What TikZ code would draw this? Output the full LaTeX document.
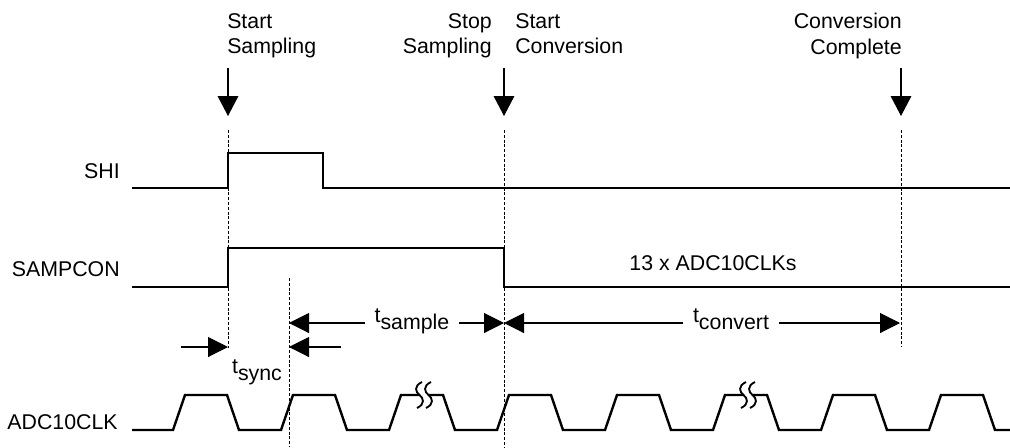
\documentclass[tikz,border=0pt]{standalone}
\usepackage{fontspec}
\setmainfont{Liberation Sans}
\usetikzlibrary{arrows.meta, positioning, calc}

\newcommand{\tsub}[1]{t\raisebox{-5.5pt}{#1}}

\tikzset{
    sig/.style={line width=1.8pt, line join=miter},
    guide/.style={line width=0.6pt, dash pattern=on 2.2pt off 1.4pt},
    evtip/.style={line width=0.8pt, -{Triangle[length=15pt, width=15.5pt]}},
    dimtip/.style={line width=0.8pt, -{Triangle[length=15pt, width=15pt]}},
    lbl/.style={inner sep=0pt, font=\fontsize{16}{19}\selectfont},
    dimlbl/.style={lbl, inner xsep=7pt, anchor=base}
}

\begin{document}
\begin{tikzpicture}[x=0.75pt, y=-0.75pt]
    \useasboundingbox (0,0) rectangle (1010,447);

    % event labels
    \node[lbl, align=left, anchor=north west] (startsmp) at (227,13) {Start\\Sampling};
    \node[lbl, align=right, anchor=north east] (stopsmp) at (492,13) {Stop\\Sampling};
    \node[lbl, align=left, anchor=north west] (startconv) at (515,13) {Start\\Conversion};
    \node[lbl, align=right, anchor=north east] (convdone) at (902,13) {Conversion\\Complete};

    \foreach \x/\n in {228/a, 504/b, 901/c} {
        \coordinate (ev\n) at (\x,116);
        \draw[evtip] (\x,68) -- (ev\n);
    }

    % guide lines
    \draw[guide] (228,130) -- (228,348);
    \draw[guide] (504,130) -- (504,447);
    \draw[guide] (901,130) -- (901,347);
    \draw[guide] (289,278) -- (289,447);

    % signal names
    \node[lbl, anchor=base east] (shi) at (120,178) {SHI};
    \node[lbl, anchor=base east] (sampcon) at (120,276) {SAMPCON};
    \node[lbl, anchor=base east] (adcclk) at (118,429) {ADC10CLK};

    % waveforms
    \draw[sig] (132,188) -- (228,188) -- (228,153) -- (323,153) -- (323,188) -- (1010,188);
    \draw[sig] (132,287) -- (228,287) -- (228,248) -- (504,248) -- (504,287) -- (1010,287);
    \node[lbl, anchor=base] (nclk) at (713,270) {13 x ADC10CLKs};

    \draw[sig] (132,430) foreach \k in {0,...,7} {
        -- ({173+108*\k},430) -- ({185+108*\k},395) -- ({227+108*\k},395) -- ({239+108*\k},430)
    } -- (1010,430);

    \foreach \b in {424, 748} {
        \fill[white] (\b-4.5,392) rectangle (\b+4.5,398);
        \foreach \s in {-4.5, 4.5}
            \draw[line width=1.4pt] (\b+\s+2.5,382) .. controls (\b+\s-6,386) and (\b+\s-4,392) .. (\b+\s,395)
                .. controls (\b+\s+4,398) and (\b+\s+6,404) .. (\b+\s-2.5,408);
    }

    % timing marks
    \coordinate (syncl) at (228,347);
    \coordinate (syncr) at (289,347);
    \coordinate (smpl) at (289,323);
    \coordinate (smpr) at (504,323);
    \coordinate (cnvl) at (504,323);
    \coordinate (cnvr) at (900,323);

    \node[dimlbl] (tsamp) at (412,322) {\tsub{sample}};
    \draw[dimtip] (tsamp.west |- smpl) -- (smpl);
    \draw[dimtip] (tsamp.east |- smpr) -- (smpr);

    \node[dimlbl] (tconv) at (731,322) {\tsub{convert}};
    \draw[dimtip] (tconv.west |- cnvl) -- (cnvl);
    \draw[dimtip] (tconv.east |- cnvr) -- (cnvr);

    \node[dimlbl] (tsync) at (257,373) {\tsub{sync}};
    \draw[dimtip] ($(syncl)+(-47,0)$) -- (syncl);
    \draw[dimtip] ($(syncr)+(52,0)$) -- (syncr);
\end{tikzpicture}
\end{document}
